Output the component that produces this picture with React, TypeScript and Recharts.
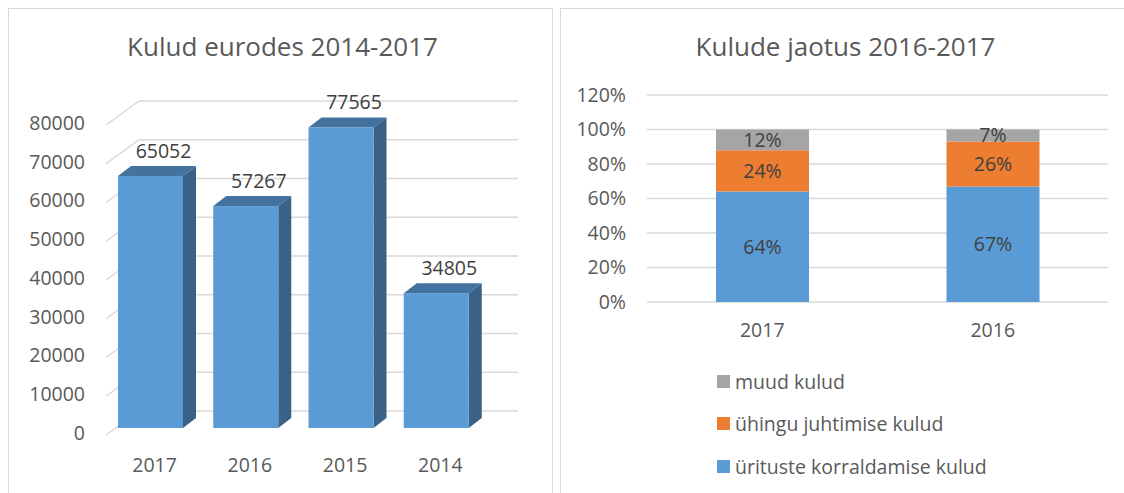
import { BarChart, Bar, XAxis, YAxis, CartesianGrid, LabelList, Legend } from 'recharts';

// Kulud eurodes 2014-2017
const years = ['2017', '2016', '2015', '2014'];
const costs = [65052, 57267, 77565, 34805];
const costTicks = [0, 10000, 20000, 30000, 40000, 50000, 60000, 70000, 80000];

// Kulude jaotus 2016-2017 (%)
const shareYears = ['2017', '2016'];
const eventShare = [64, 67];
const mgmtShare = [24, 26];
const otherShare = [12, 7];
const pctTicks = [0, 20, 40, 60, 80, 100, 120];

const seriesNames = {
  events: 'ürituste korraldamise kulud',
  mgmt: 'ühingu juhtimise kulud',
  other: 'muud kulud',
};
// legend lists the top of the stack first
const legendOrder = [seriesNames.other, seriesNames.mgmt, seriesNames.events];

const FONT = '"Open Sans", sans-serif';
const AXIS_TEXT = '#595959';
const LABEL_TEXT = '#404040';
const GRID = '#d9d9d9';
const BLUE = '#5b9bd5';
const ORANGE = '#ed7d31';
const GRAY = '#a5a5a5';
const TOP_FACE = '#44729f';
const SIDE_FACE = '#3a6286';

const costData = years.map((year, i) => ({ year, cost: costs[i] }));
const shareData = shareYears.map((year, i) => ({
  year,
  events: eventShare[i],
  mgmt: mgmtShare[i],
  other: otherShare[i],
}));

const DX = 13;
const DY = 10;

const Box3D = (props: any) => {
  const { x, y, width, height } = props;
  if (!height) return null;
  return (
    <g>
      <polygon
        points={`${x},${y} ${x + DX},${y - DY} ${x + width + DX},${y - DY} ${x + width},${y}`}
        fill={TOP_FACE}
      />
      <polygon
        points={`${x + width},${y} ${x + width + DX},${y - DY} ${x + width + DX},${y + height - DY} ${x + width},${y + height}`}
        fill={SIDE_FACE}
      />
      <rect x={x} y={y} width={width} height={height} fill={BLUE} />
    </g>
  );
};

// floor slant + back wall line for each gridline
const gridLine3D = (p: any) => {
  const { x1, x2, y1, index } = p;
  return (
    <g key={`grid-${index}`}>
      <line x1={x1 + 3} y1={y1 + 7} x2={x1 + 36} y2={y1 - 17} stroke={GRID} strokeWidth={1.5} />
      <line x1={x1 + 36} y1={y1 - 17} x2={x2 + 34} y2={y1 - 17} stroke={GRID} strokeWidth={1.5} />
    </g>
  );
};

const CostYTick = (props: any) => {
  const { y, payload } = props;
  return (
    <text x={77} y={y + 5} dy="0.35em" textAnchor="end" fill={AXIS_TEXT} fontSize={19.5} fontFamily={FONT}>
      {payload.value}
    </text>
  );
};

const CostXTick = (props: any) => {
  const { x, payload } = props;
  return (
    <text x={x + 4} y={457} dy="0.35em" textAnchor="middle" fill={AXIS_TEXT} fontSize={19.5} fontFamily={FONT}>
      {payload.value}
    </text>
  );
};

const CostLabel = (props: any) => {
  const { x, y, width, value } = props;
  return (
    <text x={x + width / 2 + DX} y={y - 18} textAnchor="middle" fill={LABEL_TEXT} fontSize={19.5} fontFamily={FONT}>
      {value}
    </text>
  );
};

const PctYTick = (props: any) => {
  const { y, payload } = props;
  return (
    <text x={66} y={y} dy="0.35em" textAnchor="end" fill={AXIS_TEXT} fontSize={19.5} fontFamily={FONT}>
      {`${payload.value}%`}
    </text>
  );
};

const PctXTick = (props: any) => {
  const { x, payload } = props;
  return (
    <text x={x} y={322} dy="0.35em" textAnchor="middle" fill={AXIS_TEXT} fontSize={19.5} fontFamily={FONT}>
      {payload.value}
    </text>
  );
};

const ShareLegend = (props: any) => {
  const items = [...(props.payload ?? [])].sort(
    (a: any, b: any) => legendOrder.indexOf(a.value) - legendOrder.indexOf(b.value)
  );
  return (
    <div style={{ position: 'relative', height: 130, width: 300 }}>
      {items.map((item: any, i: number) => (
        <div
          key={item.value}
          style={{
            position: 'absolute',
            top: 18 + i * 42.5 - 12,
            left: 0,
            height: 24,
            display: 'flex',
            alignItems: 'center',
            whiteSpace: 'nowrap',
          }}
        >
          <span style={{ width: 13, height: 13, background: item.color, display: 'inline-block', marginRight: 5 }} />
          <span style={{ color: AXIS_TEXT, fontSize: 19.5, fontFamily: FONT }}>{item.value}</span>
        </div>
      ))}
    </div>
  );
};

const titleStyle = (cx: number): React.CSSProperties => ({
  position: 'absolute',
  left: cx - 250,
  width: 500,
  top: 23,
  lineHeight: '30px',
  textAlign: 'center',
  fontSize: 26,
  color: AXIS_TEXT,
  fontFamily: FONT,
});

export default function App() {
  return (
    <div style={{ position: 'relative', width: 1116, height: 485, overflow: 'hidden', fontFamily: FONT }}>
      <style>{'html, body { overflow: hidden; } body { margin: 8px 0 0 8px; }'}</style>
      <div
        style={{
          position: 'absolute', left: 0, top: 0, width: 545, height: 600,
          border: `1px solid ${GRID}`, boxSizing: 'border-box',
        }}
      />
      <div
        style={{
          position: 'absolute', left: 552, top: 0, width: 564, height: 485,
          borderTop: `1px solid ${GRID}`, borderLeft: `1px solid ${GRID}`, boxSizing: 'border-box',
        }}
      />

      <div style={{ position: 'absolute', left: 0, top: 0 }}>
        <BarChart width={544} height={485} data={costData} margin={{ top: 110, right: 68, bottom: 0, left: 0 }}>
          <CartesianGrid vertical={false} horizontal={gridLine3D} />
          <XAxis dataKey="year" axisLine={false} tickLine={false} height={65} tick={<CostXTick />} />
          <YAxis
            type="number"
            domain={[0, 80000]}
            ticks={costTicks}
            interval={0}
            axisLine={false}
            tickLine={false}
            width={95}
            tick={<CostYTick />}
          />
          <Bar dataKey="cost" barSize={65} shape={<Box3D />} isAnimationActive={false}>
            <LabelList dataKey="cost" content={<CostLabel />} />
          </Bar>
        </BarChart>
      </div>
      <div style={titleStyle(274.5)}>Kulud eurodes 2014-2017</div>

      <div style={{ position: 'absolute', left: 552, top: 0 }}>
        <BarChart width={564} height={485} data={shareData} margin={{ top: 87, right: 16, bottom: 0, left: 0 }}>
          <CartesianGrid vertical={false} stroke={GRID} strokeWidth={1.5} />
          <XAxis dataKey="year" axisLine={false} tickLine={false} height={61} tick={<PctXTick />} />
          <YAxis
            type="number"
            domain={[0, 120]}
            ticks={pctTicks}
            interval={0}
            axisLine={false}
            tickLine={false}
            width={87}
            tick={<PctYTick />}
          />
          <Legend
            layout="vertical"
            align="center"
            verticalAlign="bottom"
            height={130}
            wrapperStyle={{ left: 157, bottom: 0, width: 300 }}
            content={<ShareLegend />}
          />
          <Bar dataKey="events" name={seriesNames.events} stackId="a" fill={BLUE} barSize={93} isAnimationActive={false}>
            <LabelList dataKey="events" position="center" formatter={(v: any) => `${v}%`} fill={LABEL_TEXT} fontSize={19.5} fontFamily={FONT} />
          </Bar>
          <Bar dataKey="mgmt" name={seriesNames.mgmt} stackId="a" fill={ORANGE} barSize={93} isAnimationActive={false}>
            <LabelList dataKey="mgmt" position="center" formatter={(v: any) => `${v}%`} fill={LABEL_TEXT} fontSize={19.5} fontFamily={FONT} />
          </Bar>
          <Bar dataKey="other" name={seriesNames.other} stackId="a" fill={GRAY} barSize={93} isAnimationActive={false}>
            <LabelList dataKey="other" position="center" formatter={(v: any) => `${v}%`} fill={LABEL_TEXT} fontSize={19.5} fontFamily={FONT} />
          </Bar>
        </BarChart>
      </div>
      <div style={titleStyle(837.5)}>Kulude jaotus 2016-2017</div>
    </div>
  );
}
